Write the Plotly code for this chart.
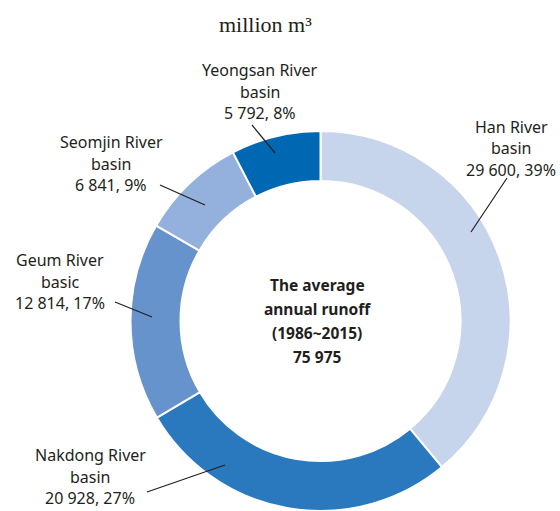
import plotly.graph_objects as go

W, H = 560, 511

# River basins and their average annual runoff (million m3)
basins = ["Han River basin", "Nakdong River basin", "Geum River basic",
          "Seomjin River basin", "Yeongsan River basin"]
runoff = [29600, 20928, 12814, 6841, 5792]
shares = [39, 27, 17, 9, 8]
colors = ["#C6D4EC", "#2A79BE", "#6693CB", "#94B0DC", "#0067B2"]
total_runoff = 75975

TEXT = "#231F20"
FONT = "Noto Sans"


def px(x, y):
    """Pixel position -> paper coordinates."""
    return x / W, 1 - y / H


def fmt(v):
    return f"{v:,}".replace(",", " ")


# Ring geometry (pixels)
cx, cy, r_out = 320.5, 321, 190
x0, _ = px(cx - r_out, 0)
x1, _ = px(cx + r_out, 0)
_, y1 = px(0, cy - r_out)
_, y0 = px(0, cy + r_out)

fig = go.Figure(go.Pie(
    values=runoff,
    labels=basins,
    marker=dict(colors=colors, line=dict(color="white", width=2)),
    hole=0.737,
    sort=False,
    direction="clockwise",
    rotation=0,
    textinfo="none",
    hoverinfo="label+value+percent",
    showlegend=False,
    domain=dict(x=[x0, x1], y=[max(y0, 0), y1]),
))

# Label block anchor (centre x, first line y) and leader line (start, end)
label_pos = [
    (511, 127, (507, 178), (471, 232)),
    (90, 455, (147, 492), (225, 465)),
    (60, 260, (115, 302), (152, 317)),
    (111, 142, (160, 185), (205, 205)),
    (260, 70, (252, 125), (275, 153)),
]

annotations = []
shapes = []
for name, val, pct, (lx, ly, p0, p1) in zip(basins, runoff, shares, label_pos):
    words = name.rsplit(" ", 1)
    lines = [words[0], words[1], f"{fmt(val)}, {pct}%"]
    for i, line in enumerate(lines):
        ax, ay = px(lx, ly + i * 21.5)
        annotations.append(dict(
            x=ax, y=ay, xref="paper", yref="paper", text=line,
            showarrow=False, xanchor="center", yanchor="middle",
            font=dict(family=FONT, size=16, color=TEXT),
        ))
    a0 = px(*p0)
    a1 = px(*p1)
    shapes.append(dict(type="line", xref="paper", yref="paper",
                       x0=a0[0], y0=a0[1], x1=a1[0], y1=a1[1],
                       line=dict(color=TEXT, width=1.2)))

# Centre text
centre_lines = ["The average", "annual runoff", "(1986~2015)", fmt(total_runoff)]
for i, line in enumerate(centre_lines):
    ax, ay = px(317, 285 + i * 24)
    annotations.append(dict(
        x=ax, y=ay, xref="paper", yref="paper", text=f"<b>{line}</b>",
        showarrow=False, xanchor="center", yanchor="middle",
        font=dict(family=FONT, size=15.5, color=TEXT),
    ))

# Unit caption
ax, ay = px(265, 24)
annotations.append(dict(
    x=ax, y=ay, xref="paper", yref="paper", text="million m³",
    showarrow=False, xanchor="center", yanchor="middle",
    font=dict(family="Liberation Serif", size=22, color=TEXT),
))

fig.update_layout(
    width=W, height=H,
    margin=dict(l=0, r=0, t=0, b=0),
    paper_bgcolor="white",
    plot_bgcolor="white",
    annotations=annotations,
    shapes=shapes,
)

fig.write_html("out.html")
